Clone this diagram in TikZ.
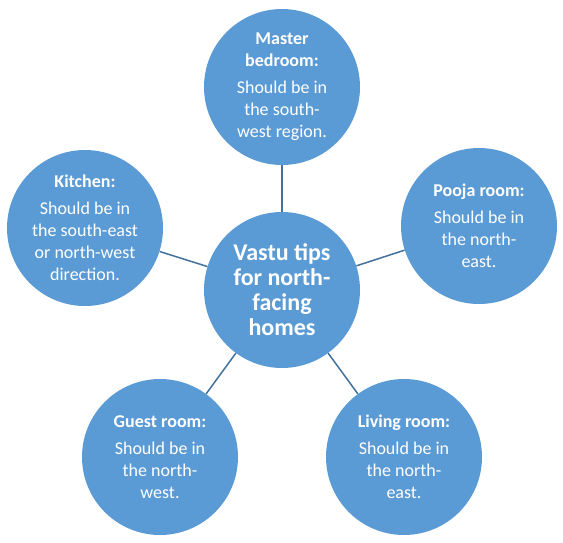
\documentclass[tikz,border=0pt]{standalone}
\usepackage{fontspec}
\setmainfont{Carlito}
\usepackage{tikz}
\usetikzlibrary{positioning}
\definecolor{bubblefill}{RGB}{91,155,213}
\definecolor{linkcolour}{RGB}{65,113,156}

\begin{document}
\begin{tikzpicture}[x=1pt, y=-1pt,
    bubble/.style={circle, fill=bubblefill, minimum size=156pt, inner sep=0pt, align=center, text=white, font=\fontsize{18}{22}\selectfont},
    hub/.style={bubble, font=\fontsize{24}{25}\selectfont\bfseries},
    link/.style={draw=linkcolour, line width=1.5pt}
]
\useasboundingbox (0,0) rectangle (563,542);

\node[hub] (hub) at (282,290) {Vastu tips\\for north-\\facing\\homes};
\node[bubble] (master) at (282,87) {\textbf{Master}\\\textbf{bedroom:}\\[5pt]Should be in\\the south-\\west region.};
\node[bubble] (pooja) at (479,226) {\textbf{Pooja room:}\\[5pt]Should be in\\the north-\\east.};
\node[bubble] (living) at (404,457) {\textbf{Living room:}\\[5pt]Should be in\\the north-\\east.};
\node[bubble] (guest) at (160,457) {\textbf{Guest room:}\\[5pt]Should be in\\the north-\\west.};
\node[bubble] (kitchen) at (85,228) {\textbf{Kitchen:}\\[5pt]Should be in\\the south-east\\or north-west\\direction.};

\draw[link] (hub) -- (master);
\draw[link] (hub) -- (pooja);
\draw[link] (hub) -- (living);
\draw[link] (hub) -- (guest);
\draw[link] (hub) -- (kitchen);

\end{tikzpicture}
\end{document}
